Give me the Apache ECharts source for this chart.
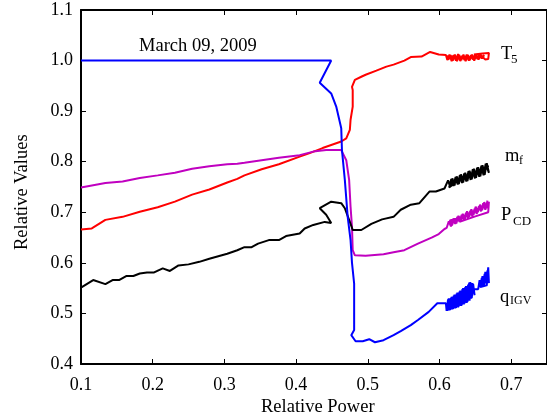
<!DOCTYPE html>
<html>
<head>
<meta charset="utf-8">
<script src="https://cdn.jsdelivr.net/npm/echarts@6/dist/echarts.min.js"></script>
<style>html,body{margin:0;padding:0;background:#fff}#c{width:547px;height:416px}</style>
</head>
<body>
<div id="c"></div>
<script>
const xTicks = [0.1, 0.2, 0.3, 0.4, 0.5, 0.6, 0.7];
const yTicks = [0.4, 0.5, 0.6, 0.7, 0.8, 0.9, 1.0, 1.1];

const qIgv = [
 [0.100,1.000],[0.200,1.000],[0.300,1.000],[0.350,1.000],[0.449,1.000],[0.433,0.956],[0.449,0.935],[0.456,0.909],
 [0.463,0.866],[0.464,0.823],[0.468,0.764],[0.472,0.691],[0.476,0.645],[0.478,0.600],[0.481,0.559],[0.481,0.467],
 [0.477,0.457],[0.483,0.445],[0.493,0.445],[0.502,0.449],[0.510,0.443],[0.522,0.447],[0.536,0.457],[0.546,0.465],
 [0.560,0.477],[0.570,0.487],[0.585,0.503],[0.597,0.520],[0.609,0.520],
 [0.610,0.505],[0.612,0.528],[0.614,0.506],[0.616,0.531],[0.618,0.508],[0.620,0.535],[0.622,0.510],[0.624,0.539],
 [0.626,0.512],[0.628,0.543],[0.630,0.515],[0.632,0.548],[0.634,0.518],[0.636,0.552],[0.638,0.521],[0.640,0.557],
 [0.642,0.525],[0.643,0.562],[0.645,0.530],[0.647,0.558],[0.649,0.536],
 [0.648,0.534],[0.646,0.560],[0.644,0.529],[0.6415,0.561],[0.639,0.523],[0.637,0.554],[0.635,0.520],[0.633,0.550],
 [0.631,0.516],[0.629,0.545],[0.627,0.514],[0.625,0.541],[0.623,0.511],[0.621,0.537],[0.619,0.509],[0.617,0.533],
 [0.615,0.507],[0.613,0.530],[0.611,0.506],
 [0.630,0.532],[0.648,0.548],[0.654,0.548],
 [0.656,0.566],[0.658,0.551],[0.660,0.574],[0.662,0.553],[0.664,0.582],[0.666,0.556],[0.668,0.591],[0.669,0.560],
 [0.667,0.585],[0.665,0.560],[0.663,0.578],[0.661,0.555],[0.659,0.570],[0.657,0.552],[0.667,0.556]
];

const t5 = [
 [0.100,0.666],[0.115,0.668],[0.134,0.685],[0.158,0.691],[0.182,0.701],[0.207,0.710],[0.231,0.721],[0.255,0.735],
 [0.279,0.745],[0.304,0.759],[0.318,0.766],[0.328,0.773],[0.352,0.785],[0.376,0.795],[0.405,0.810],[0.419,0.817],
 [0.437,0.827],[0.449,0.833],[0.463,0.840],[0.470,0.846],[0.475,0.863],[0.476,0.883],[0.479,0.909],[0.479,0.942],
 [0.478,0.948],[0.482,0.962],[0.491,0.968],[0.497,0.972],[0.512,0.980],[0.526,0.988],[0.536,0.992],[0.551,1.000],
 [0.560,1.007],[0.575,1.008],[0.587,1.017],[0.599,1.012],
 [0.609,1.011],[0.611,1.001],[0.614,1.012],[0.617,0.999],[0.620,1.011],[0.623,1.000],[0.626,1.013],[0.629,0.999],
 [0.632,1.010],[0.635,1.001],[0.638,1.012],[0.641,1.000],[0.644,1.011],[0.647,1.002],[0.650,1.013],[0.653,1.003],
 [0.656,1.012],[0.659,1.004],[0.662,1.011],
 [0.6605,1.004],[0.6575,1.012],[0.6545,1.002],[0.6515,1.011],[0.6485,1.000],[0.6455,1.012],[0.6425,1.001],
 [0.6395,1.011],[0.6365,0.999],[0.6335,1.012],[0.6305,1.001],[0.6275,1.011],[0.6245,0.999],[0.6215,1.012],
 [0.6185,1.000],[0.6155,1.011],[0.6125,1.002],[0.6095,1.009],
 [0.635,1.006],[0.660,1.007],[0.664,1.002],[0.668,1.003],[0.669,1.015],[0.660,1.014],[0.648,1.012]
];

const pCd = [
 [0.100,0.749],[0.134,0.758],[0.158,0.761],[0.182,0.768],[0.207,0.773],[0.231,0.778],[0.255,0.786],[0.279,0.791],
 [0.304,0.795],[0.318,0.796],[0.328,0.798],[0.352,0.803],[0.376,0.808],[0.405,0.813],[0.424,0.820],[0.442,0.823],
 [0.463,0.823],[0.470,0.803],[0.474,0.764],[0.476,0.711],[0.478,0.671],[0.479,0.625],[0.482,0.615],[0.497,0.614],
 [0.522,0.617],[0.536,0.621],[0.551,0.625],[0.570,0.638],[0.589,0.650],[0.599,0.657],[0.607,0.667],
 [0.610,0.669],[0.613,0.682],[0.616,0.672],[0.619,0.687],[0.622,0.677],[0.625,0.691],[0.628,0.681],[0.631,0.695],
 [0.634,0.684],[0.637,0.699],[0.640,0.688],[0.643,0.703],[0.646,0.692],[0.649,0.707],[0.652,0.697],[0.655,0.712],
 [0.658,0.702],[0.661,0.718],[0.664,0.705],[0.667,0.723],
 [0.6655,0.708],[0.6625,0.720],[0.6595,0.704],[0.6565,0.715],[0.6535,0.700],[0.6505,0.711],[0.6475,0.695],
 [0.6445,0.706],[0.6415,0.691],[0.6385,0.702],[0.6355,0.687],[0.6325,0.697],[0.6295,0.683],[0.6265,0.693],
 [0.6235,0.678],[0.6205,0.688],[0.6175,0.674],[0.6145,0.684],
 [0.640,0.694],[0.668,0.716],[0.669,0.721],[0.668,0.700],[0.650,0.692],[0.628,0.681]
];

const mF = [
 [0.100,0.551],[0.117,0.566],[0.134,0.558],[0.144,0.566],[0.153,0.566],[0.163,0.574],[0.173,0.574],[0.182,0.579],
 [0.192,0.581],[0.202,0.581],[0.214,0.589],[0.224,0.584],[0.236,0.595],[0.250,0.597],[0.265,0.602],[0.279,0.608],
 [0.304,0.618],[0.318,0.625],[0.328,0.631],[0.338,0.631],[0.347,0.638],[0.362,0.645],[0.376,0.645],[0.386,0.653],
 [0.405,0.658],[0.412,0.668],[0.424,0.675],[0.440,0.681],[0.449,0.679],[0.442,0.695],[0.433,0.708],[0.449,0.721],
 [0.463,0.718],[0.468,0.708],[0.475,0.681],[0.479,0.665],[0.491,0.665],[0.505,0.677],[0.520,0.686],[0.536,0.691],
 [0.546,0.705],[0.560,0.715],[0.572,0.718],[0.586,0.741],[0.595,0.741],[0.607,0.747],
 [0.609,0.747],[0.612,0.763],[0.615,0.750],[0.618,0.767],[0.621,0.753],[0.624,0.771],[0.627,0.756],[0.630,0.775],
 [0.633,0.759],[0.636,0.778],[0.639,0.762],[0.642,0.782],[0.645,0.765],[0.648,0.786],[0.651,0.768],[0.654,0.789],
 [0.657,0.771],[0.660,0.793],[0.663,0.774],[0.666,0.797],[0.669,0.778],
 [0.6675,0.776],[0.6645,0.796],[0.6615,0.773],[0.6585,0.792],[0.6555,0.770],[0.6525,0.788],[0.6495,0.767],
 [0.6465,0.785],[0.6435,0.764],[0.6405,0.781],[0.6375,0.761],[0.6345,0.777],[0.6315,0.758],[0.6285,0.774],
 [0.6255,0.755],[0.6225,0.770],[0.6195,0.752],[0.6165,0.766],[0.6135,0.749],
 [0.625,0.762],[0.645,0.775],[0.668,0.792],[0.667,0.788]
];

const FONT = 'Liberation Serif';
const chart = echarts.init(document.getElementById('c'), null, {renderer: 'canvas'});

function xAx(pos, labels) {
  return {
    type: 'value', position: pos, min: 0.1, max: 0.75, interval: 0.1,
    axisLine: {show: true, onZero: false, lineStyle: {color: '#000', width: 2}},
    axisTick: {show: true, inside: true, length: 5, customValues: xTicks, lineStyle: {color: '#000', width: 1}},
    axisLabel: {show: labels, customValues: xTicks, formatter: v => v.toFixed(1), margin: 12,
      color: '#000', fontFamily: FONT, fontSize: 18},
    splitLine: {show: false}
  };
}
function yAx(pos, labels) {
  return {
    type: 'value', position: pos, min: 0.4, max: 1.1, interval: 0.1,
    axisLine: {show: true, onZero: false, lineStyle: {color: '#000', width: 2}},
    axisTick: {show: true, inside: true, length: 5, customValues: yTicks, lineStyle: {color: '#000', width: 1}},
    axisLabel: {show: labels, customValues: yTicks, formatter: v => v.toFixed(1), margin: 8,
      color: '#000', fontFamily: FONT, fontSize: 18},
    splitLine: {show: false}
  };
}
function ser(name, data, color, z) {
  return {name, type: 'line', data, showSymbol: false, symbol: 'none', smooth: false, z,
    lineStyle: {color, width: 2}, clip: true, animation: false};
}
function txt(text, x, y, size) {
  return {type: 'text', x, y, style: {text, fill: '#000', font: size + 'px "' + FONT + '"'}};
}

chart.setOption({
  animation: false,
  backgroundColor: '#fff',
  grid: {left: 81, top: 10, width: 467, height: 354, containLabel: false},
  xAxis: [xAx('bottom', true), xAx('top', false)],
  yAxis: [yAx('left', true), yAx('right', false)],
  series: [
    ser('T5', t5, '#ff0000', 2),
    ser('PCD', pCd, '#c000c0', 3),
    ser('mf', mF, '#000000', 4),
    ser('qIGV', qIgv, '#0000ff', 5)
  ],
  graphic: [
    txt('March 09, 2009', 139, 37, 18.5),
    txt('T', 501, 45, 18.5),
    txt('5', 511, 53, 13),
    txt('m', 505, 147, 18.5),
    txt('f', 519, 155, 12),
    txt('P', 501, 206, 18.5),
    txt('CD', 513, 215, 13),
    txt('q', 500, 288, 18.5),
    txt('IGV', 510, 295, 12),
    txt('Relative Power', 261, 398, 18.5),
    {type: 'text', x: 13, y: 250, rotation: Math.PI / 2,
      style: {text: 'Relative Values', fill: '#000', font: '18.5px "' + FONT + '"'}}
  ]
});
</script>
</body>
</html>
